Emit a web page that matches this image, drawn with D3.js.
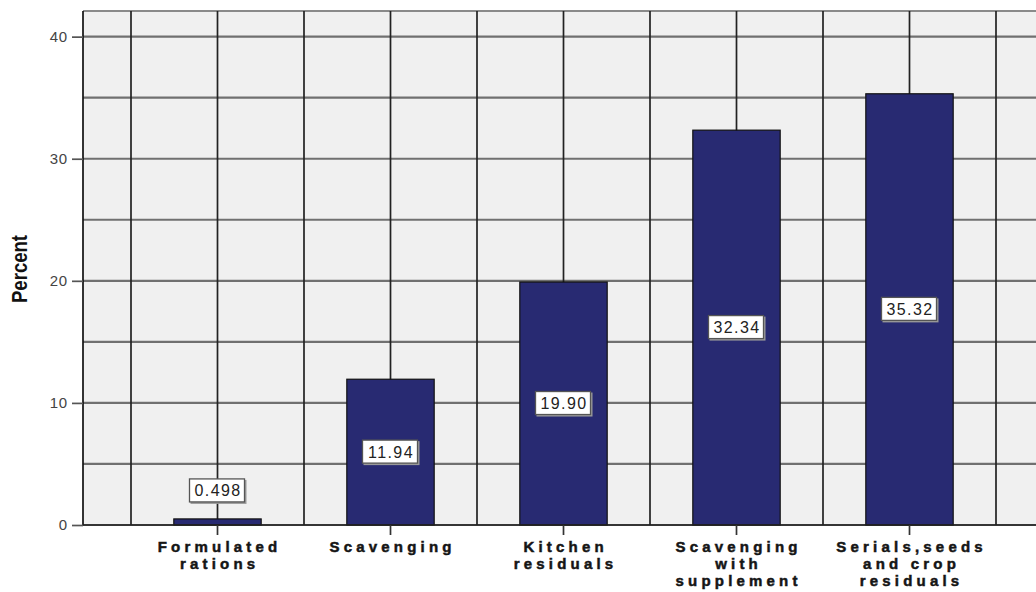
<!DOCTYPE html>
<html><head><meta charset="utf-8">
<script src="https://cdn.jsdelivr.net/npm/d3@7"></script>
<style>html,body{margin:0;padding:0;background:#fff;}svg{display:block;}</style>
</head><body>
<svg id="chart" width="1036" height="592"></svg>
<script>
const categories = [
  ["Formulated", "rations"],
  ["Scavenging"],
  ["Kitchen", "residuals"],
  ["Scavenging", "with", "supplement"],
  ["Serials,seeds", "and crop", "residuals"]
];
const values = [0.498, 11.94, 19.90, 32.34, 35.32];
const valueLabels = ["0.498", "11.94", "19.90", "32.34", "35.32"];
const yTicks = [0, 10, 20, 30, 40];
const yGrid = [0, 5, 10, 15, 20, 25, 30, 35, 40];
const yTitle = "Percent";

const svg = d3.select("#chart");
const W = 1036, H = 592;
const plotL = 83, plotT = 11, plotB = 525;
const keys = categories.map(c => c.join(" "));

const x = d3.scaleBand().domain(keys).range([131, 996]).padding(0);
const y = d3.scaleLinear().domain([0, 42.1]).range([plotB, plotT]);
const barW = x.bandwidth() * 0.505;

// background
svg.append("rect").attr("x", plotL).attr("y", plotT).attr("width", W - plotL + 10).attr("height", plotB - plotT).attr("fill", "#f0f0f0");

// horizontal grid
svg.append("g").selectAll("line").data(yGrid).join("line")
  .attr("x1", plotL).attr("x2", W + 10)
  .attr("y1", d => y(d)).attr("y2", d => y(d))
  .attr("stroke", "#707070").attr("stroke-width", 2.2);
// top frame
svg.append("line").attr("x1", plotL).attr("x2", W + 10).attr("y1", plotT).attr("y2", plotT)
  .attr("stroke", "#8a8a8a").attr("stroke-width", 2.2);

// vertical grid: band edges and centres
const vLines = [];
keys.forEach(k => { vLines.push(x(k)); vLines.push(x(k) + x.bandwidth() / 2); });
vLines.push(x(keys[keys.length - 1]) + x.bandwidth());
svg.append("g").selectAll("line").data(vLines).join("line")
  .attr("x1", d => d).attr("x2", d => d).attr("y1", plotT).attr("y2", plotB)
  .attr("stroke", "#222").attr("stroke-width", 1.7);

// bars
svg.append("g").selectAll("rect").data(values).join("rect")
  .attr("x", (d, i) => x(keys[i]) + x.bandwidth() / 2 - barW / 2)
  .attr("y", d => y(d)).attr("width", barW).attr("height", d => plotB - y(d))
  .attr("fill", "#282a72").attr("stroke", "#111").attr("stroke-width", 1.2);

// axes lines
svg.append("line").attr("x1", plotL).attr("x2", plotL).attr("y1", plotT).attr("y2", plotB)
  .attr("stroke", "#111").attr("stroke-width", 1.7);
svg.append("line").attr("x1", plotL).attr("x2", W + 10).attr("y1", plotB).attr("y2", plotB)
  .attr("stroke", "#222").attr("stroke-width", 1.7);

// y axis
const yAxis = d3.axisLeft(y).tickValues(yTicks).tickSize(11).tickPadding(4).tickFormat(d3.format("d"));
const ga = svg.append("g").attr("transform", `translate(${plotL},0)`).call(yAxis);
ga.select(".domain").remove();
ga.selectAll(".tick line").attr("stroke", "#555").attr("stroke-width", 1.7);
ga.selectAll(".tick text").attr("font-family", "Liberation Sans, Arial, sans-serif").attr("font-size", 15).attr("fill", "#444").attr("letter-spacing", 0.8);

// x axis ticks
const xAxis = d3.axisBottom(x).tickSize(10).tickFormat("");
const gx = svg.append("g").attr("transform", `translate(0,${plotB})`).call(xAxis);
gx.select(".domain").remove();
gx.selectAll(".tick line").attr("stroke", "#333").attr("stroke-width", 1.7);

// category labels
const catG = svg.append("g");
categories.forEach((lines, i) => {
  const cx = x(keys[i]) + x.bandwidth() / 2;
  const t = catG.append("text").attr("x", cx).attr("y", 552)
    .attr("text-anchor", "middle")
    .attr("font-family", "Liberation Sans, Arial, sans-serif").attr("font-weight", "bold")
    .attr("font-size", 15).attr("letter-spacing", 4.2).attr("fill", "#151515")
    .attr("stroke", "#151515").attr("stroke-width", 0.5);
  lines.forEach((ln, j) => {
    t.append("tspan").attr("x", cx + 2.1).attr("dy", j === 0 ? 0 : 17).text(ln);
  });
});

// value labels
const lab = svg.append("g").selectAll("g").data(values).join("g")
  .attr("transform", (d, i) => {
    const cx = x(keys[i]) + x.bandwidth() / 2;
    const cy = d < 5 ? y(d) - 28 : y(d / 2);
    return `translate(${cx},${cy})`;
  });
lab.append("rect").attr("x", -27).attr("y", -11).attr("width", 56).attr("height", 24)
  .attr("fill", "#9a9a9a");
lab.append("rect").attr("x", -28).attr("y", -12).attr("width", 55).attr("height", 23)
  .attr("fill", "#fff").attr("stroke", "#555").attr("stroke-width", 1.3);
lab.append("text").attr("x", 0.5).attr("y", 5.5).attr("text-anchor", "middle")
  .attr("font-family", "Liberation Sans, Arial, sans-serif").attr("font-size", 16)
  .attr("letter-spacing", 1.4).attr("fill", "#222")
  .text((d, i) => valueLabels[i]);

// y title
svg.append("text").attr("transform", "translate(27,269) rotate(-90)")
  .attr("text-anchor", "middle")
  .attr("font-family", "Liberation Sans, Arial, sans-serif").attr("font-weight", "bold")
  .attr("font-size", 22).attr("textLength", 68).attr("lengthAdjust", "spacingAndGlyphs")
  .attr("fill", "#111").text(yTitle);
</script>
</body></html>
